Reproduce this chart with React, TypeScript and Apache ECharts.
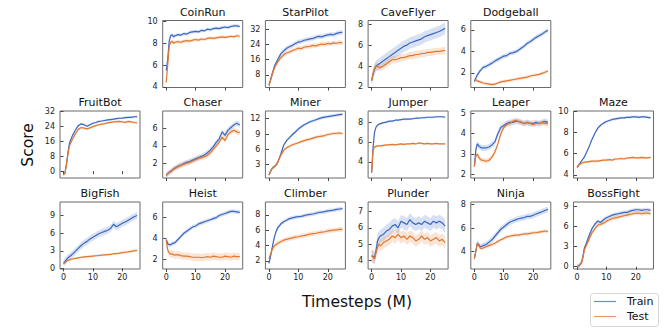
import React, { useEffect, useRef } from 'react';
import * as echarts from 'echarts';

// Timesteps (M)
const X = [0, 0.5, 1, 1.5, 2, 2.5, 3, 4, 5, 6, 7, 8, 9, 10, 11, 12, 13, 14, 15, 16, 17, 18, 19, 20, 21, 22, 23, 24, 25];
const X_TICKS = [0, 10, 20];

const coinrunTrain = [5.5, 6.5, 8.2, 8.7, 8.8, 8.6, 8.7, 8.8, 8.75, 8.9, 8.85, 9.0, 9.05, 9.1, 9.05, 9.2, 9.15, 9.3, 9.25, 9.35, 9.4, 9.35, 9.45, 9.5, 9.45, 9.55, 9.6, 9.6, 9.55];
const coinrunTest = [4.4, 6.0, 7.7, 8.1, 8.2, 8.0, 8.1, 8.15, 8.1, 8.2, 8.25, 8.2, 8.3, 8.35, 8.3, 8.4, 8.35, 8.45, 8.5, 8.45, 8.5, 8.55, 8.6, 8.55, 8.6, 8.65, 8.6, 8.7, 8.65];
const starpilotTrain = [2.5, 5, 8, 10.5, 13, 14.5, 16, 19, 20.5, 22, 22.8, 23.5, 24.5, 25.3, 25.5, 26.2, 26.5, 26.9, 27.2, 27.8, 28.2, 28.0, 28.6, 29, 29.3, 29.1, 29.8, 30.2, 30.4];
const starpilotTest = [2.5, 4.8, 7.5, 10, 12, 13.5, 14.8, 17, 18.5, 19.5, 20, 20.8, 21.3, 22, 21.8, 22.5, 22.8, 23, 23.5, 23.2, 23.8, 24.2, 24.0, 24.5, 24.3, 24.8, 24.6, 25.0, 24.8];
const caveflyerTrain = [2.6, 3.2, 3.7, 4.0, 4.1, 4.2, 4.3, 4.5, 4.7, 4.9, 5.1, 5.3, 5.5, 5.7, 5.9, 6.0, 6.2, 6.3, 6.4, 6.5, 6.6, 6.8, 6.9, 7.0, 7.1, 7.2, 7.3, 7.45, 7.6];
const caveflyerTest = [2.6, 3.3, 3.8, 4.0, 3.95, 3.9, 3.85, 4.0, 4.2, 4.4, 4.6, 4.6, 4.7, 4.8, 4.8, 4.9, 5.0, 5.0, 5.1, 5.1, 5.2, 5.2, 5.3, 5.3, 5.35, 5.4, 5.4, 5.45, 5.5];
const dodgeballTrain = [1.2, 1.5, 1.8, 2.0, 2.2, 2.35, 2.5, 2.6, 2.75, 2.9, 3.1, 3.25, 3.4, 3.55, 3.6, 3.8, 3.85, 3.95, 4.1, 4.3, 4.5, 4.75, 4.9, 5.1, 5.3, 5.45, 5.6, 5.8, 5.95];
const dodgeballTest = [1.3, 1.35, 1.25, 1.2, 1.15, 1.1, 1.05, 1.0, 0.95, 0.9, 0.95, 1.05, 1.15, 1.2, 1.25, 1.3, 1.35, 1.4, 1.45, 1.5, 1.55, 1.6, 1.7, 1.75, 1.8, 1.85, 1.95, 2.05, 2.15];
const fruitbotTrain = [-2, -1, 4, 10, 15, 17, 19, 22, 24.5, 25.5, 25.0, 24.2, 25, 25.8, 26.2, 26.8, 27, 27.3, 27.6, 27.8, 28, 28.3, 28.5, 28.6, 28.8, 29, 29, 29.3, 29.4];
const fruitbotTest = [-2, -1, 3.5, 9, 13.5, 15.5, 17, 20, 22.5, 23.5, 23.2, 22.8, 23.3, 24, 24.5, 25, 25.3, 25.6, 26, 26.3, 26.5, 26.7, 26.8, 26.5, 26.3, 26.8, 26.5, 26.2, 26.0];
const chaserTrain = [0.6, 0.8, 0.95, 1.05, 1.2, 1.35, 1.45, 1.65, 1.8, 1.95, 2.1, 2.2, 2.35, 2.5, 2.65, 2.8, 2.95, 3.2, 3.5, 3.9, 4.4, 4.8, 5.6, 5.2, 5.8, 6.1, 6.4, 6.6, 6.4];
const chaserTest = [0.6, 0.8, 0.9, 1.0, 1.15, 1.3, 1.4, 1.6, 1.75, 1.9, 2.0, 2.1, 2.25, 2.4, 2.55, 2.65, 2.75, 2.9, 3.2, 3.6, 4.0, 4.4, 5.0, 4.6, 5.3, 5.6, 5.8, 5.6, 5.5];
const minerTrain = [1.0, 1.6, 2.2, 2.5, 2.7, 3.0, 3.5, 5.0, 6.8, 7.7, 8.3, 8.9, 9.4, 10, 10.4, 10.8, 11.1, 11.4, 11.6, 11.8, 12, 12.2, 12.3, 12.4, 12.5, 12.6, 12.7, 12.8, 12.85];
const minerTest = [1.0, 1.6, 2.2, 2.5, 2.7, 3.0, 3.5, 4.8, 5.8, 6.3, 6.6, 6.9, 7.1, 7.3, 7.5, 7.7, 7.9, 8.0, 8.2, 8.4, 8.5, 8.6, 8.7, 8.9, 9.0, 9.1, 9.15, 9.2, 9.1];
const jumperTrain = [2.9, 5.5, 7.0, 7.5, 7.7, 7.8, 7.85, 7.95, 8.0, 8.1, 8.1, 8.2, 8.2, 8.25, 8.3, 8.3, 8.3, 8.35, 8.4, 8.4, 8.45, 8.45, 8.5, 8.5, 8.5, 8.55, 8.55, 8.55, 8.5];
const jumperTest = [2.9, 5.2, 5.5, 5.55, 5.6, 5.6, 5.6, 5.65, 5.7, 5.7, 5.75, 5.7, 5.75, 5.8, 5.75, 5.8, 5.8, 5.85, 5.8, 5.9, 5.85, 5.8, 5.85, 5.8, 5.8, 5.85, 5.8, 5.8, 5.8];
const leaperTrain = [2.4, 3.2, 3.5, 3.4, 3.35, 3.3, 3.3, 3.3, 3.35, 3.45, 3.6, 4.0, 4.3, 4.4, 4.5, 4.55, 4.55, 4.6, 4.6, 4.55, 4.5, 4.55, 4.5, 4.5, 4.55, 4.5, 4.55, 4.6, 4.55];
const leaperTest = [2.4, 2.9, 3.0, 2.85, 2.75, 2.7, 2.7, 2.65, 2.7, 2.85, 3.1, 3.5, 4.0, 4.3, 4.45, 4.5, 4.6, 4.65, 4.6, 4.55, 4.5, 4.55, 4.5, 4.45, 4.5, 4.5, 4.55, 4.5, 4.5];
const mazeTrain = [4.7, 4.9, 5.1, 5.3, 5.5, 5.7, 6.0, 6.6, 7.3, 7.9, 8.4, 8.7, 8.9, 9.05, 9.15, 9.25, 9.3, 9.35, 9.4, 9.4, 9.45, 9.45, 9.5, 9.5, 9.45, 9.5, 9.5, 9.45, 9.4];
const mazeTest = [4.7, 4.9, 5.0, 5.1, 5.15, 5.2, 5.2, 5.25, 5.3, 5.3, 5.3, 5.35, 5.4, 5.4, 5.45, 5.4, 5.5, 5.5, 5.55, 5.5, 5.6, 5.6, 5.65, 5.6, 5.6, 5.65, 5.6, 5.6, 5.65];
const bigfishTrain = [0.9, 1.2, 1.5, 1.8, 2.0, 2.2, 2.4, 2.9, 3.4, 3.9, 4.3, 4.6, 5.0, 5.3, 5.6, 5.9, 6.1, 6.3, 6.5, 6.8, 7.5, 7.1, 7.4, 7.7, 7.9, 8.2, 8.5, 8.8, 9.0];
const bigfishTest = [0.8, 1.0, 1.2, 1.35, 1.45, 1.55, 1.6, 1.7, 1.8, 1.9, 1.95, 2.0, 2.05, 2.1, 2.15, 2.2, 2.25, 2.3, 2.35, 2.4, 2.5, 2.5, 2.6, 2.7, 2.75, 2.8, 2.9, 3.0, 3.05];
const heistTrain = [3.9, 3.5, 3.4, 3.4, 3.5, 3.55, 3.6, 3.9, 4.2, 4.5, 4.7, 4.9, 5.1, 5.2, 5.4, 5.5, 5.6, 5.7, 5.8, 5.9, 6.0, 6.2, 6.3, 6.4, 6.5, 6.6, 6.6, 6.55, 6.5];
const heistTest = [3.8, 2.9, 2.6, 2.5, 2.5, 2.45, 2.4, 2.45, 2.35, 2.3, 2.3, 2.25, 2.2, 2.2, 2.2, 2.15, 2.2, 2.25, 2.2, 2.3, 2.25, 2.2, 2.2, 2.3, 2.25, 2.2, 2.3, 2.25, 2.25];
const climberTrain = [1.7, 2.5, 3.5, 4.5, 5.3, 5.9, 6.3, 6.8, 7.1, 7.3, 7.5, 7.6, 7.7, 7.75, 7.8, 7.9, 8.0, 8.05, 8.1, 8.2, 8.3, 8.35, 8.4, 8.5, 8.55, 8.6, 8.7, 8.75, 8.8];
const climberTest = [2.3, 2.8, 3.4, 3.8, 4.0, 4.15, 4.3, 4.5, 4.7, 4.8, 4.9, 5.0, 5.1, 5.15, 5.25, 5.3, 5.4, 5.5, 5.55, 5.6, 5.7, 5.75, 5.8, 5.9, 5.95, 6.0, 6.05, 6.1, 6.1];
const plunderTrain = [4.3, 4.25, 4.2, 4.6, 5.2, 5.4, 5.5, 5.6, 5.8, 5.9, 6.1, 6.2, 6.0, 6.4, 6.3, 6.2, 6.5, 6.3, 6.2, 6.3, 6.2, 6.4, 6.3, 6.2, 6.4, 6.3, 6.4, 6.3, 6.1];
const plunderTest = [4.3, 4.2, 4.1, 4.5, 4.8, 5.0, 4.9, 5.1, 5.2, 5.3, 5.5, 5.4, 5.6, 5.4, 5.5, 5.3, 5.5, 5.4, 5.2, 5.3, 5.5, 5.3, 5.4, 5.2, 5.3, 5.4, 5.2, 5.3, 5.1];
const ninjaTrain = [3.4, 4.0, 4.7, 4.6, 4.4, 4.45, 4.5, 4.6, 4.8, 5.0, 5.3, 5.6, 5.9, 6.1, 6.3, 6.5, 6.6, 6.7, 6.8, 6.85, 6.9, 7.0, 7.0, 7.1, 7.2, 7.3, 7.4, 7.5, 7.6];
const ninjaTest = [3.4, 4.0, 4.7, 4.5, 4.3, 4.25, 4.3, 4.4, 4.5, 4.6, 4.7, 4.85, 5.0, 5.1, 5.25, 5.3, 5.35, 5.4, 5.4, 5.45, 5.5, 5.5, 5.55, 5.6, 5.6, 5.65, 5.7, 5.75, 5.7];
const bossfightTrain = [0.0, 0.1, 0.3, 0.6, 1.5, 2.8, 3.3, 4.5, 5.6, 6.3, 6.8, 6.6, 7.0, 7.3, 7.5, 7.7, 7.8, 7.9, 8.0, 8.1, 8.1, 8.3, 8.4, 8.5, 8.5, 8.4, 8.5, 8.5, 8.4];
const bossfightTest = [0.0, 0.1, 0.3, 0.5, 1.3, 2.5, 3.0, 4.0, 5.0, 5.6, 6.2, 6.3, 6.5, 6.8, 7.0, 7.2, 7.3, 7.4, 7.5, 7.6, 7.7, 7.8, 7.9, 8.0, 8.0, 7.9, 8.0, 8.0, 7.9];

const TITLES = ['CoinRun', 'StarPilot', 'CaveFlyer', 'Dodgeball', 'FruitBot', 'Chaser', 'Miner', 'Jumper', 'Leaper', 'Maze', 'BigFish', 'Heist', 'Climber', 'Plunder', 'Ninja', 'BossFight'];
const TRAIN = [coinrunTrain, starpilotTrain, caveflyerTrain, dodgeballTrain, fruitbotTrain, chaserTrain, minerTrain, jumperTrain, leaperTrain, mazeTrain, bigfishTrain, heistTrain, climberTrain, plunderTrain, ninjaTrain, bossfightTrain];
const TEST = [coinrunTest, starpilotTest, caveflyerTest, dodgeballTest, fruitbotTest, chaserTest, minerTest, jumperTest, leaperTest, mazeTest, bigfishTest, heistTest, climberTest, plunderTest, ninjaTest, bossfightTest];
// shaded spread (half width) of train / test runs
const TRAIN_SPREAD = [0.15, 1.2, 0.55, 0.2, 0.6, 0.3, 0.3, 0.1, 0.15, 0.12, 0.6, 0.2, 0.25, 0.4, 0.25, 0.3];
const TEST_SPREAD = [0.15, 1.2, 0.35, 0.15, 0.6, 0.3, 0.3, 0.1, 0.12, 0.12, 0.2, 0.35, 0.3, 0.35, 0.15, 0.3];
const Y_MIN = [3.94, 1.3, 1.95, 0.63, -3.7, 0.3, 0.4, 2.36, 1.83, 3.7, -0.1, 1.07, 0.96, 3.49, 2.5, -0.35];
const Y_MAX = [10.1, 36.6, 8.35, 6.87, 32.4, 8.0, 13.5, 9.13, 5.11, 10.05, 11.3, 7.5, 9.66, 7.57, 8.23, 9.66];
const Y_TICKS = [
  [4, 6, 8, 10], [8, 16, 24, 32], [2, 4, 6, 8], [2, 4, 6],
  [0, 8, 16, 24, 32], [2, 4, 6], [3, 6, 9, 12], [4, 6, 8], [2, 3, 4, 5], [4, 6, 8, 10],
  [0, 3, 6, 9], [2, 4, 6], [2, 4, 6, 8], [4, 5, 6, 7], [4, 6, 8], [0, 3, 6, 9],
];
const ROW = [0, 0, 0, 0, 1, 1, 1, 1, 1, 1, 2, 2, 2, 2, 2, 2];
const COL = [1, 2, 3, 4, 0, 1, 2, 3, 4, 5, 0, 1, 2, 3, 4, 5];
const SERIES_NAMES = ['Train', 'Test'];

const BLUE = '#3a68c2';
const ORANGE = '#e3772d';
const FONT = 'DejaVu Sans';

export default function App() {
  const ref = useRef<HTMLDivElement>(null);
  useEffect(() => {
    if (!ref.current) return;
    const chart = echarts.init(ref.current, null, { renderer: 'svg' });
    const grids: any[] = [];
    const xAxes: any[] = [];
    const yAxes: any[] = [];
    const series: any[] = [];
    const graphics: any[] = [];
    const rowTops = [20.5, 111, 202];
    const W = 80;
    const H = 67;
    TITLES.forEach((title, i) => {
      const left = 60 + COL[i] * 102.7;
      const top = rowTops[ROW[i]];
      grids.push({ left, top, width: W, height: H, show: true, borderColor: '#6a6a6a', borderWidth: 1, backgroundColor: 'transparent', containLabel: false });
      xAxes.push({
        type: 'value', gridIndex: i, min: -1.2, max: 26,
        axisLine: { show: false },
        splitLine: { show: false },
        axisTick: { show: true, length: 3, lineStyle: { color: '#444' }, customValues: X_TICKS },
        axisLabel: { show: ROW[i] === 2, customValues: X_TICKS, fontSize: 8, fontFamily: FONT, color: '#222', margin: 4 },
      });
      yAxes.push({
        type: 'value', gridIndex: i, min: Y_MIN[i], max: Y_MAX[i],
        axisLine: { show: false },
        splitLine: { show: false },
        axisTick: { show: true, length: 3, lineStyle: { color: '#444' }, customValues: Y_TICKS[i] },
        axisLabel: { customValues: Y_TICKS[i], fontSize: 8, fontFamily: FONT, color: '#222', margin: 5 },
      });
      const pairs: [number[], number, string, string][] = [
        [TRAIN[i], TRAIN_SPREAD[i], BLUE, SERIES_NAMES[0]],
        [TEST[i], TEST_SPREAD[i], ORANGE, SERIES_NAMES[1]],
      ];
      pairs.forEach(([vals, hw, color]) => {
        series.push({
          type: 'custom', xAxisIndex: i, yAxisIndex: i, silent: true, z: 1,
          data: [[X[0], vals[0]]],
          renderItem: (params: any, api: any) => {
            if (params.dataIndex !== 0) return null;
            const n = Math.min(X.length, vals.length);
            const pts: number[][] = [];
            for (let k = 0; k < n; k++) pts.push(api.coord([X[k], vals[k] + hw]));
            for (let k = n - 1; k >= 0; k--) pts.push(api.coord([X[k], vals[k] - hw]));
            return { type: 'polygon', shape: { points: pts }, style: { fill: color, opacity: 0.2 } };
          },
        });
      });
      pairs.forEach(([vals, , color, name]) => {
        series.push({
          type: 'line', name, xAxisIndex: i, yAxisIndex: i, z: 3,
          data: X.map((x, k) => [x, vals[k]]).filter((p) => p[1] !== undefined),
          showSymbol: false, symbol: 'none',
          lineStyle: { color, width: 1.2 },
          itemStyle: { color },
        });
      });
      graphics.push({
        type: 'text', x: left + W / 2, y: top - 8.5,
        style: { text: title, font: `11px ${FONT}`, fill: '#111', align: 'center', verticalAlign: 'middle' },
      });
    });
    graphics.push({
      type: 'text', x: 28, y: 145, rotation: Math.PI / 2,
      style: { text: 'Score', font: `15.5px ${FONT}`, fill: '#111', align: 'center', verticalAlign: 'middle' },
    });
    graphics.push({
      type: 'text', x: 357, y: 301.5,
      style: { text: 'Timesteps (M)', font: `15.5px ${FONT}`, fill: '#111', align: 'center', verticalAlign: 'middle' },
    });
    // legend
    graphics.push({
      type: 'rect', shape: { x: 590.5, y: 293.5, width: 68, height: 33, r: 3 },
      style: { fill: '#fff', stroke: '#d6d6d6', lineWidth: 1 },
    });
    [BLUE, ORANGE].forEach((c, k) => {
      const y = 301.5 + k * 15;
      graphics.push({ type: 'line', shape: { x1: 594, y1: y, x2: 616, y2: y }, style: { stroke: c, lineWidth: 1.2, opacity: 0.75 } });
      graphics.push({
        type: 'text', x: 627, y,
        style: { text: SERIES_NAMES[k], font: `11px ${FONT}`, fill: '#111', align: 'left', verticalAlign: 'middle' },
      });
    });
    chart.setOption({
      animation: false,
      backgroundColor: '#fff',
      grid: grids,
      xAxis: xAxes,
      yAxis: yAxes,
      series,
      graphic: graphics,
    });
    return () => chart.dispose();
  }, []);
  return <div ref={ref} style={{ position: 'fixed', left: 0, top: 0, width: 664, height: 332 }} />;
}
